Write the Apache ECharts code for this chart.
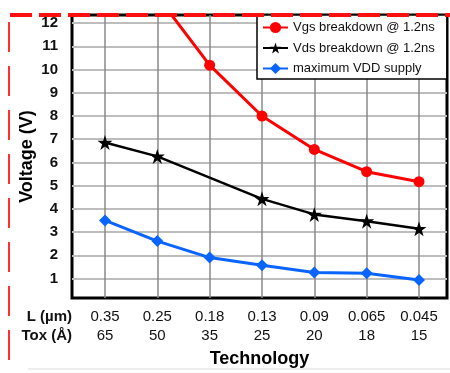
<!DOCTYPE html>
<html><head><meta charset="utf-8">
<script src="https://cdn.jsdelivr.net/npm/echarts@6/dist/echarts.min.js"></script>
<style>html,body{margin:0;padding:0;background:#fff}#c{width:450px;height:373px}</style>
</head><body><div id="c"></div>
<script>
const lengths = ['0.35','0.25','0.18','0.13','0.09','0.065','0.045'];
const toxes = ['65','50','35','25','20','18','15'];
const vgs = [16.0, 13.16, 10.19, 8.0, 6.56, 5.6, 5.17];
const vds = [6.86, 6.26, null, 4.43, 3.76, 3.47, 3.14];
const vdd = [3.5, 2.61, 1.9, 1.57, 1.26, 1.23, 0.94];
const yTicks = [1,2,3,4,5,6,7,8,9,10,11,12];
const xTicks = lengths.map((_, i) => i);

const pairs = arr => arr.map((v, i) => [i, v]);
const chart = echarts.init(document.getElementById('c'));
chart.setOption({
  animation: false,
  textStyle: {fontFamily: 'Liberation Sans, Arial, sans-serif'},
  grid: {left: 72, right: 3, top: 15, bottom: 74, show: true, borderColor: '#000', borderWidth: 3, backgroundColor: '#fff'},
  xAxis: {
    type: 'value', min: -0.63, max: 6.535,
    name: 'Technology', nameLocation: 'middle', nameGap: 52, nameMoveOverlap: false,
    nameTextStyle: {fontSize: 18, fontWeight: 'bold', color: '#000'},
    axisLine: {show: false}, axisTick: {show: false, customValues: xTicks},
    splitLine: {show: true, lineStyle: {color: '#8a8a8a', width: 1.5}},
    axisLabel: {customValues: xTicks, margin: 9, fontSize: 15, color: '#111', lineHeight: 19,
      formatter: v => lengths[v] + '\n' + toxes[v]}
  },
  yAxis: {
    type: 'value', min: 0.16, max: 12.35,
    name: 'Voltage (V)', nameLocation: 'middle', nameGap: 36, nameMoveOverlap: false,
    nameTextStyle: {fontSize: 18, fontWeight: 'bold', color: '#000'},
    axisLine: {show: false}, axisTick: {show: false, customValues: yTicks},
    splitLine: {show: true, lineStyle: {color: '#bdbdbd', width: 2}},
    axisLabel: {customValues: yTicks, margin: 14, fontSize: 15, fontWeight: 'bold', color: '#111'}
  },
  legend: {
    orient: 'vertical', left: 257, top: 15, padding: [6, 12, 4, 5],
    itemWidth: 25, itemHeight: 14, itemGap: 7.5,
    backgroundColor: '#fff', borderColor: '#000', borderWidth: 1.5,
    textStyle: {fontSize: 13, color: '#111'}
  },
  series: [
    {name: 'Vgs breakdown @ 1.2ns', type: 'line', data: pairs(vgs), color: '#ff0000',
     symbol: 'circle', symbolSize: 11, lineStyle: {width: 3}, z: 4},
    {name: 'Vds breakdown @ 1.2ns', type: 'line', data: pairs(vds), color: '#000000', connectNulls: true,
     symbol: 'path://M50,0 L61.8,36.2 L100,36.2 L69.1,58.8 L80.9,95.1 L50,72.7 L19.1,95.1 L30.9,58.8 L0,36.2 L38.2,36.2 Z',
     symbolSize: 15, lineStyle: {width: 2.5}, z: 3},
    {name: 'maximum VDD supply', type: 'line', data: pairs(vdd), color: '#0a64ff',
     symbol: 'diamond', symbolSize: 12, lineStyle: {width: 3}, z: 2}
  ],
  graphic: [
    {type: 'text', right: 378, top: 309, style: {text: 'L (µm)', font: 'bold 15px Liberation Sans, Arial', fill: '#111', textAlign: 'right'}},
    {type: 'text', right: 378, top: 328, style: {text: 'Tox (Å)', font: 'bold 15px Liberation Sans, Arial', fill: '#111', textAlign: 'right'}},
    {type: 'line', z: 100, shape: {x1: 10, y1: 15, x2: 450, y2: 15}, style: {stroke: '#ff1010', lineWidth: 4, lineDash: [22, 7]}},
    {type: 'line', z: 100, shape: {x1: 9, y1: 22, x2: 9, y2: 373}, style: {stroke: '#ff3030', lineWidth: 2, lineDash: [30, 14]}},
    {type: 'line', z: 100, shape: {x1: 28, y1: 369, x2: 450, y2: 369}, style: {stroke: '#dddddd', lineWidth: 1}}
  ]
});
</script></body></html>
